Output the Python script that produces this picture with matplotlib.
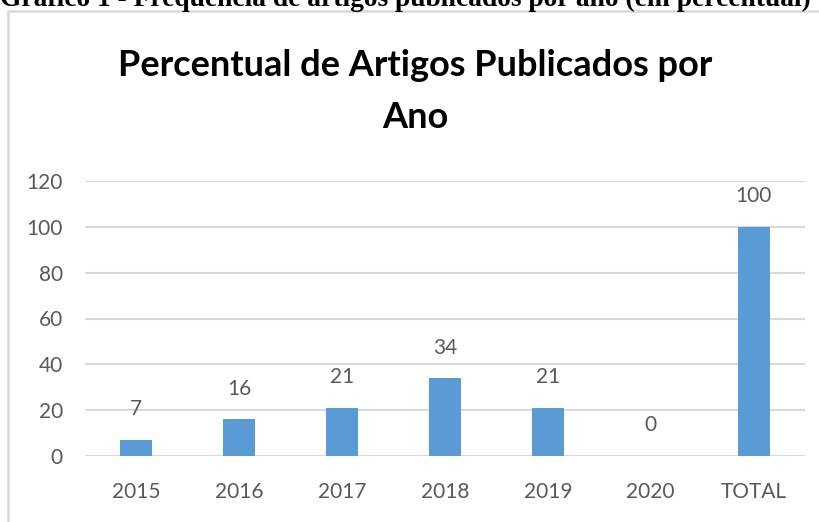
import matplotlib
matplotlib.use('Agg')
import matplotlib.pyplot as plt
from matplotlib.patches import Rectangle

# dados
anos = ['2015', '2016', '2017', '2018', '2019', '2020', 'TOTAL']
percentual = [7, 16, 21, 34, 21, 0, 100]
yticks = [0, 20, 40, 60, 80, 100, 120]

cinza = '#595959'
azul = '#5b9bd5'

fig = plt.figure(figsize=(8.19, 5.22), dpi=100, facecolor='w')

# cabeçalho do documento (cortado no topo da imagem)
fig.text(0.0, 1 - 6 / 522, 'Gráfico 1 - Frequência de artigos publicados por ano (em percentual)',
         family='Liberation Serif', weight='bold', fontsize=19.8, ha='left', va='baseline', color='black')

# moldura do gráfico
fig.patches.append(Rectangle((8 / 819, -0.1), 1.2, 1 - 11 / 522 + 0.1, transform=fig.transFigure,
                             fill=False, edgecolor='#d9d9d9', lw=1.8))

# va='baseline' -> alinha a última linha
fig.text(415 / 819, 1 - 128 / 522, 'Percentual de Artigos Publicados por\nAno', family='Lato',
         weight='bold', fontsize=26, ha='center', va='baseline', linespacing=1.72, color='black')

ax = fig.add_axes([85 / 819, 66 / 522, 720 / 819, 275 / 522])
x = range(len(anos))
ax.bar(x, percentual, width=0.31, color=azul, zorder=3)
for xi, v in zip(x, percentual):
    ax.annotate(str(v), (xi, v), xytext=(0, 22), textcoords='offset points', ha='center', va='center',
                fontsize=15, color=cinza, family='Lato')

ax.set_xlim(-0.5, len(anos) - 0.5)
ax.set_ylim(0, 120)
ax.set_yticks(yticks)
ax.set_xticks(list(x))
ax.set_xticklabels(anos)
ax.grid(axis='y', color='#d9d9d9', lw=1.5, zorder=0)
for s in ax.spines.values():
    s.set_visible(False)
ax.tick_params(length=0, labelsize=15, labelcolor=cinza)
ax.tick_params(axis='x', pad=19)
ax.tick_params(axis='y', pad=16)
for lbl in ax.get_xticklabels() + ax.get_yticklabels():
    lbl.set_family('Lato')

fig.savefig('out.png', dpi=100)
